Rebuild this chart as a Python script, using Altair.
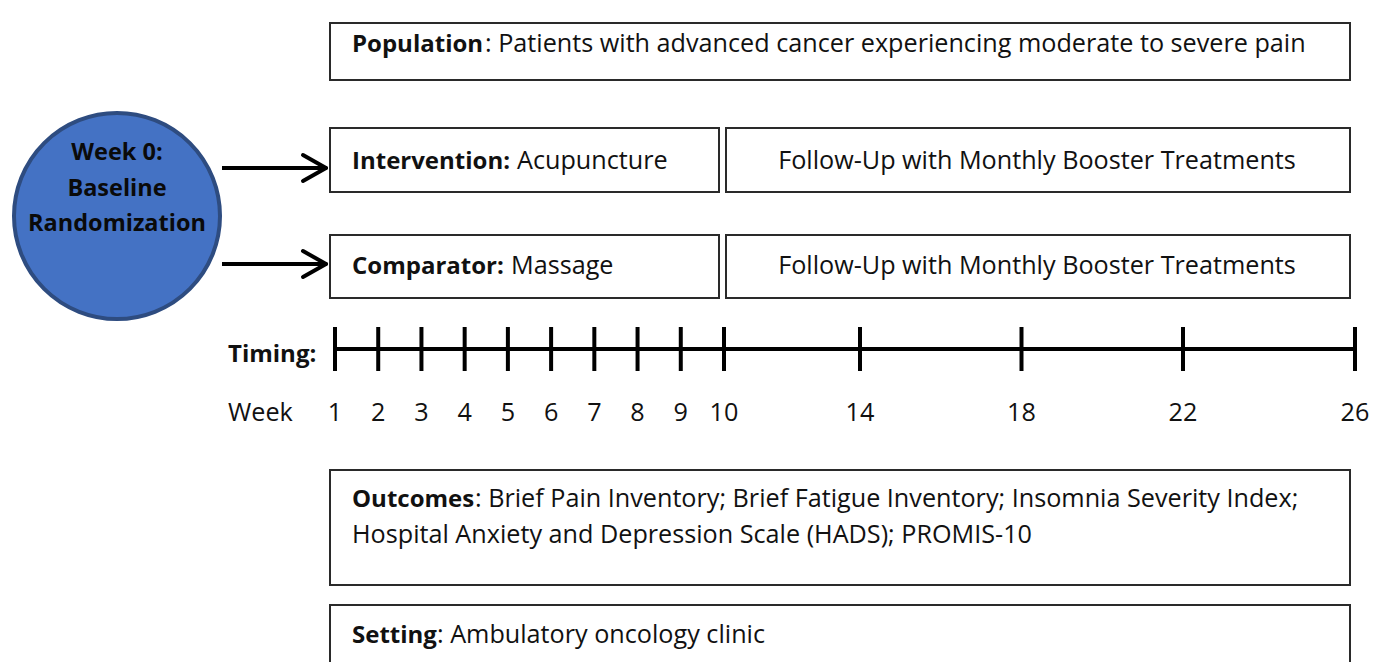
import altair as alt
import pandas as pd

# ---------------- content ----------------
bold_parts = ["Population", "Intervention:", "Comparator:", "Outcomes", "Setting"]
plain_parts = [
    ": Patients with advanced cancer experiencing moderate to severe pain",
    "Acupuncture",
    "Massage",
    ": Brief Pain Inventory; Brief Fatigue Inventory; Insomnia Severity Index;",
    ": Ambulatory oncology clinic",
]
outcomes_line2 = ["Hospital Anxiety and Depression Scale (HADS); PROMIS-10"]
followup_texts = ["Follow-Up with Monthly Booster Treatments",
                  "Follow-Up with Monthly Booster Treatments"]
circle_lines = ["Week 0:", "Baseline", "Randomization"]
weeks = [1, 2, 3, 4, 5, 6, 7, 8, 9, 10, 14, 18, 22, 26]
week_labels = [str(w) for w in weeks]
timing_label = ["Timing:"]
week_word = ["Week"]

# ---------------- layout (pixel positions) ----------------
box_x0 = [330, 330, 726, 330, 726, 330, 330]
box_x1 = [1350, 719, 1350, 719, 1350, 1350, 1350]
box_y0 = [23, 128, 128, 235, 235, 470, 605]
box_y1 = [80, 192, 192, 298, 298, 585, 700]

bold_x = [352, 352, 352, 352, 352]
plain_x = [485, 517, 511, 475, 437]
text_base = [52, 169, 274, 507, 643]
line2_x = [352]
line2_base = [543]
follow_x = [1037, 1037]
follow_base = [169, 274]

circle_cx, circle_cy, circle_r = 117, 216, 103
circle_text_x = 117
circle_text_base = [160, 196, 231]

arrow_y = [168, 264]
arrow_x0, arrow_x1 = 222, 325

week_domain = [1, 10, 14, 22, 26]
week_range_px = [335, 724, 860, 1183, 1355]
tick_y0, tick_y1, line_y = 327, 371, 349
week_label_base = 421
timing_x, timing_base = 228, 362
weekword_x = 228

FONT = "Open Sans"
FS = 25.2       # regular text
FSB = 24        # bold text
FSC = 23.5      # circle text
INK = "#111111"

W, H = 1365, 654
XS = alt.Scale(domain=[8, 8 + W], range=[0, W])
YS = alt.Scale(domain=[8, 8 + H], range=[0, H])
WS = alt.Scale(domain=week_domain, range=[p - 8 for p in week_range_px])


def px(field):
    return alt.X(field, type="quantitative", scale=XS, axis=None)


def py(field):
    return alt.Y(field, type="quantitative", scale=YS, axis=None)


# ---------------- data frames ----------------
boxes = pd.DataFrame({"x0": box_x0, "x1": box_x1, "y0": box_y0, "y1": box_y1})
bold_df = pd.DataFrame({"t": bold_parts, "x": bold_x, "y": text_base})
plain_df = pd.DataFrame({"t": plain_parts + outcomes_line2,
                         "x": plain_x + line2_x, "y": text_base + line2_base})
follow_df = pd.DataFrame({"t": followup_texts, "x": follow_x, "y": follow_base})
circle_df = pd.DataFrame({"x": [circle_cx], "y": [circle_cy]})
circle_txt = pd.DataFrame({"t": circle_lines, "x": [circle_text_x] * 3, "y": circle_text_base})
arrows = pd.DataFrame({"x0": [arrow_x0] * 2, "x1": [arrow_x1] * 2, "y": arrow_y})
heads = pd.DataFrame({
    "x0": [arrow_x1 - 22] * 4,
    "y0": [arrow_y[0] - 13, arrow_y[0] + 13, arrow_y[1] - 13, arrow_y[1] + 13],
    "x1": [arrow_x1 + 1] * 4,
    "y1": [arrow_y[0], arrow_y[0], arrow_y[1], arrow_y[1]],
})
ticks = pd.DataFrame({"w": weeks, "lab": week_labels,
                      "y0": [tick_y0] * len(weeks), "y1": [tick_y1] * len(weeks),
                      "yl": [week_label_base] * len(weeks)})
tline = pd.DataFrame({"w0": [weeks[0]], "w1": [weeks[-1]], "y": [line_y]})
side_df = pd.DataFrame({"t": timing_label + week_word, "x": [timing_x, weekword_x],
                        "y": [timing_base, week_label_base], "b": ["bold", "normal"]})

# ---------------- layers ----------------
box_layer = alt.Chart(boxes).mark_rect(fill="white", stroke="#2a2a2a", strokeWidth=2, clip=True).encode(
    x=px("x0"), x2="x1", y=py("y0"), y2="y1")

bold_layer = alt.Chart(bold_df).mark_text(font=FONT, fontSize=FSB, fontWeight="bold", align="left",
                                          baseline="alphabetic", color=INK).encode(
    x=px("x"), y=py("y"), text="t")
plain_layer = alt.Chart(plain_df).mark_text(font=FONT, fontSize=FS, align="left",
                                            baseline="alphabetic", color=INK).encode(
    x=px("x"), y=py("y"), text="t")
follow_layer = alt.Chart(follow_df).mark_text(font=FONT, fontSize=FS, align="center",
                                              baseline="alphabetic", color=INK).encode(
    x=px("x"), y=py("y"), text="t")

circle_layer = alt.Chart(circle_df).mark_point(shape="circle", filled=True, size=(2 * circle_r) ** 2,
                                               fill="#4472C4", stroke="#2E4C80", strokeWidth=4,
                                               opacity=1).encode(x=px("x"), y=py("y"))
circle_text_layer = alt.Chart(circle_txt).mark_text(font=FONT, fontSize=FSC, fontWeight="bold",
                                                    align="center", baseline="alphabetic",
                                                    color="#0a0a0a").encode(
    x=px("x"), y=py("y"), text="t")

arrow_layer = alt.Chart(arrows).mark_rule(color="black", strokeWidth=4).encode(
    x=px("x0"), x2="x1", y=py("y"))
head_layer = alt.Chart(heads).mark_rule(color="black", strokeWidth=4, strokeCap="round").encode(
    x=px("x0"), x2="x1", y=py("y0"), y2="y1")

tline_layer = alt.Chart(tline).mark_rule(color="black", strokeWidth=4).encode(
    x=alt.X("w0:Q", scale=WS, axis=None), x2="w1", y=py("y"))
tick_layer = alt.Chart(ticks).mark_rule(color="black", strokeWidth=4).encode(
    x=alt.X("w:Q", scale=WS, axis=None), y=py("y0"), y2="y1")
tick_lab_layer = alt.Chart(ticks).mark_text(font=FONT, fontSize=FS, align="center",
                                            baseline="alphabetic", color=INK).encode(
    x=alt.X("w:Q", scale=WS, axis=None), y=py("yl"), text="lab")

timing_layer = alt.Chart(side_df[side_df.b == "bold"]).mark_text(
    font=FONT, fontSize=FSB, fontWeight="bold", align="left", baseline="alphabetic", color=INK).encode(
    x=px("x"), y=py("y"), text="t")
week_word_layer = alt.Chart(side_df[side_df.b == "normal"]).mark_text(
    font=FONT, fontSize=FS, align="left", baseline="alphabetic", color=INK).encode(
    x=px("x"), y=py("y"), text="t")

chart = alt.layer(
    box_layer, bold_layer, plain_layer, follow_layer,
    circle_layer, circle_text_layer, arrow_layer, head_layer,
    tline_layer, tick_layer, tick_lab_layer, timing_layer, week_word_layer,
).resolve_scale(x="independent").properties(
    width=W, height=H, padding=0, background="white",
    autosize=alt.AutoSizeParams(type="none"),
).configure_view(stroke=None)

chart.save("out.html", embed_options={"renderer": "svg", "actions": False})
